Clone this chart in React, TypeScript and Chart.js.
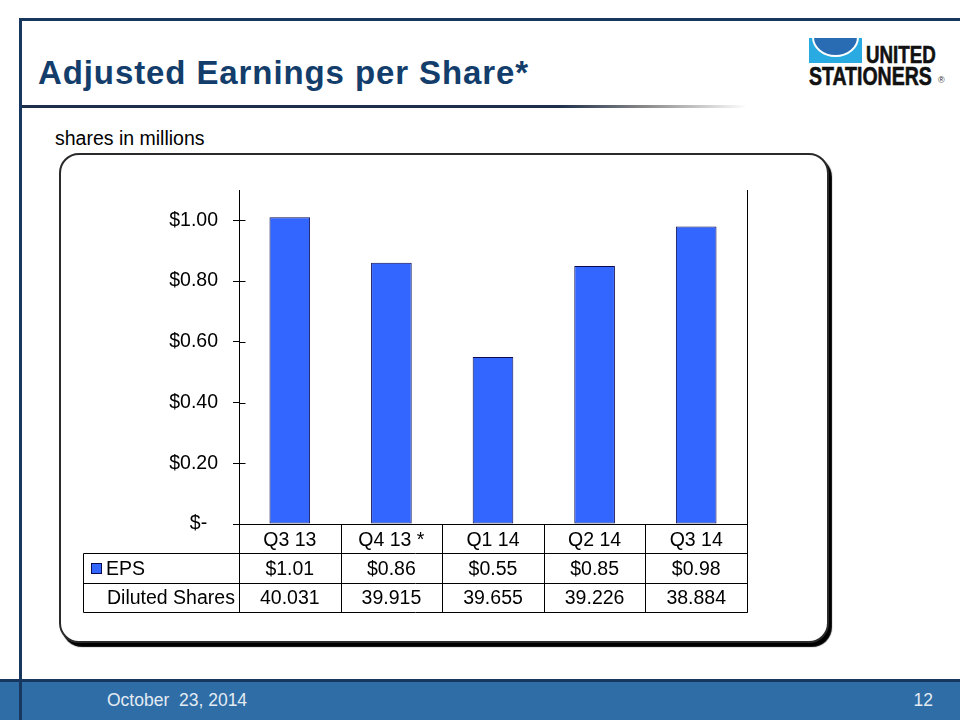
import React, { useEffect, useRef } from 'react';
import { Chart, registerables } from 'chart.js';

Chart.register(...registerables);

const categories = ['Q3 13', 'Q4 13 *', 'Q1 14', 'Q2 14', 'Q3 14'];
const epsValues = [1.01, 0.86, 0.55, 0.85, 0.98];
const epsLabels = ['$1.01', '$0.86', '$0.55', '$0.85', '$0.98'];
const dilutedShares = ['40.031', '39.915', '39.655', '39.226', '38.884'];
const seriesName = 'EPS';
const sharesRowName = 'Diluted Shares';
const yMin = 0;
const yMax = 1.1;
const yStep = 0.2;

const FONT = '"Liberation Sans", Arial, sans-serif';
const BAR_FILL = '#3366ff';
const BAR_EDGE = '#0a0a50';

const px = (v: number) => Math.round(v) + 0.5;

const tablePlugin = {
  id: 'dataTable',
  afterDraw(chart: any) {
    const { ctx, chartArea: a } = chart;
    const n = categories.length;
    const w = (a.right - a.left) / n;
    const rowH = 29.3;
    const r0 = a.bottom;
    const r1 = r0 + rowH;
    const r2 = r1 + rowH;
    const r3 = r2 + rowH;
    const tableLeft = 83;
    const line = (x1: number, y1: number, x2: number, y2: number) => {
      ctx.beginPath();
      ctx.moveTo(x1, y1);
      ctx.lineTo(x2, y2);
      ctx.stroke();
    };
    ctx.save();
    ctx.strokeStyle = '#000';
    ctx.lineWidth = 1;
    line(px(a.right), a.top, px(a.right), px(r3));
    const ys = chart.scales.y;
    ys.ticks.forEach((t: any) => {
      const y = px(ys.getPixelForValue(t.value));
      line(px(a.left), y, px(a.left) + 6, y);
    });
    line(px(a.left), px(r0), px(a.right), px(r0));
    line(px(tableLeft), px(r1), px(a.right), px(r1));
    line(px(tableLeft), px(r2), px(a.right), px(r2));
    line(px(tableLeft), px(r3), px(a.right), px(r3));
    line(px(tableLeft), px(r1), px(tableLeft), px(r3));
    for (let i = 0; i <= n; i++) {
      const x = px(a.left + i * w);
      line(x, px(r0), x, px(r3));
    }
    ctx.fillStyle = '#000';
    ctx.font = `19.5px ${FONT}`;
    ctx.textAlign = 'center';
    ctx.textBaseline = 'middle';
    for (let i = 0; i < n; i++) {
      const cx = a.left + (i + 0.5) * w;
      ctx.fillText(categories[i], cx, (r0 + r1) / 2 + 1.5);
      ctx.fillText(epsLabels[i], cx, (r1 + r2) / 2 + 1.5);
      ctx.fillText(dilutedShares[i], cx, (r2 + r3) / 2 + 1.5);
    }
    ctx.textAlign = 'left';
    ctx.fillStyle = BAR_FILL;
    ctx.fillRect(91, Math.round((r1 + r2) / 2) - 5, 11, 11);
    ctx.strokeStyle = BAR_EDGE;
    ctx.strokeRect(91.5, Math.round((r1 + r2) / 2) - 4.5, 10, 10);
    ctx.fillStyle = '#000';
    ctx.fillText(seriesName, 106, (r1 + r2) / 2 + 1.5);
    ctx.fillText(sharesRowName, 107, (r2 + r3) / 2 + 1.5);
    ctx.restore();
  },
};

function EpsChart() {
  const ref = useRef<HTMLCanvasElement | null>(null);
  useEffect(() => {
    if (!ref.current) return;
    const chart = new Chart(ref.current, {
      type: 'bar',
      data: {
        labels: categories,
        datasets: [
          {
            label: seriesName,
            data: epsValues,
            backgroundColor: BAR_FILL,
            borderColor: BAR_EDGE,
            borderWidth: 1,
            borderSkipped: false,
            barPercentage: 0.4,
            categoryPercentage: 1,
          },
        ],
      },
      options: {
        animation: false,
        responsive: false,
        devicePixelRatio: 1,
        layout: { padding: { top: 190, bottom: 196, right: 213, left: 0 } },
        plugins: { legend: { display: false }, tooltip: { enabled: false } },
        scales: {
          x: { display: false },
          y: {
            min: yMin,
            max: yMax,
            ticks: {
              stepSize: yStep,
              includeBounds: false,
              color: '#000',
              padding: 15,
              font: { family: FONT, size: 19.5 },
              callback: (v: any) => (Number(v) === 0 ? '$-  ' : '$' + Number(v).toFixed(2)),
            },
            grid: { drawOnChartArea: false, drawTicks: true, tickLength: 6, color: '#000' },
            border: { color: '#000', width: 1 },
            afterFit: (s: any) => {
              s.width = 239;
            },
          },
        },
      },
      plugins: [tablePlugin],
    });
    return () => chart.destroy();
  }, []);
  return (
    <canvas
      ref={ref}
      width={960}
      height={720}
      style={{ position: 'absolute', left: 0, top: 0, width: 960, height: 720, zIndex: 5 }}
    />
  );
}

export default function App() {
  const navy = '#17375e';
  return (
    <div
      style={{
        position: 'fixed',
        left: 0,
        top: 0,
        width: 960,
        height: 720,
        background: '#fff',
        overflow: 'hidden',
        fontFamily: FONT,
      }}
    >
      <div style={{ position: 'absolute', left: 19, top: 18, width: 941, height: 3, background: navy }} />
      <div style={{ position: 'absolute', left: 0, top: 680, width: 960, height: 40, background: '#2e6da6' }} />
      <div style={{ position: 'absolute', left: 0, top: 679, width: 960, height: 3, background: navy }} />
      <div style={{ position: 'absolute', left: 19, top: 18, width: 3, height: 702, background: navy, zIndex: 2 }} />
      <div
        style={{
          position: 'absolute',
          left: 107,
          top: 690,
          fontFamily: '"Liberation Sans Narrow", "Arial Narrow", sans-serif',
          fontSize: 17.5,
          lineHeight: '20px',
          color: '#e4ebf3',
          whiteSpace: 'pre',
        }}
      >
        October  23, 2014
      </div>
      <div
        style={{
          position: 'absolute',
          right: 27,
          top: 690,
          fontFamily: '"Liberation Sans Narrow", "Arial Narrow", sans-serif',
          fontSize: 17.5,
          lineHeight: '20px',
          color: '#e4ebf3',
        }}
      >
        12
      </div>
      <div
        style={{
          position: 'absolute',
          left: 38,
          top: 56,
          fontSize: 33,
          lineHeight: '33px',
          fontWeight: 'bold',
          color: '#133d6b',
          letterSpacing: 0.9,
          whiteSpace: 'nowrap',
        }}
      >
        Adjusted Earnings per Share*
      </div>
      <div
        style={{
          position: 'absolute',
          left: 22,
          top: 105,
          width: 725,
          height: 3,
          background:
            'linear-gradient(to right, #1c2f4a 0%, #1c2f4a 74%, #8a8a8a 86%, rgba(255,255,255,0) 100%)',
        }}
      />
      <svg
        width={60}
        height={30}
        viewBox="0 0 60 30"
        style={{ position: 'absolute', left: 806, top: 36 }}
      >
        <rect x={3} y={2} width={53} height={25} fill="#29abe2" />
        <path d="M 7 1 H 52 A 22.5 19 0 0 1 7 1 Z" fill="#2a6cb4" stroke="#fff" strokeWidth={2} />
        <rect x={3} y={0} width={53} height={2} fill="#fff" />
      </svg>
      <div style={{ position: 'absolute', left: 866, top: 43, fontSize: 24, lineHeight: '24px', fontWeight: 'bold', color: '#111', transform: 'scaleX(0.78)', transformOrigin: 'left top', whiteSpace: 'nowrap', WebkitTextStroke: '0.6px #111' }}>
        UNITED
      </div>
      <div style={{ position: 'absolute', left: 809, top: 64, fontSize: 25, lineHeight: '25px', fontWeight: 'bold', color: '#111', transform: 'scaleX(0.78)', transformOrigin: 'left top', whiteSpace: 'nowrap', WebkitTextStroke: '0.6px #111' }}>
        STATIONERS
      </div>
      <div style={{ position: 'absolute', left: 938, top: 76, fontSize: 9, lineHeight: '9px', color: '#333' }}>®</div>
      <div style={{ position: 'absolute', left: 55, top: 128, fontSize: 19.5, lineHeight: '20px', color: '#000', whiteSpace: 'nowrap' }}>
        shares in millions
      </div>
      <div
        style={{
          position: 'absolute',
          left: 59,
          top: 153,
          width: 766,
          height: 486,
          border: '2px solid #2a2a2a',
          borderRadius: 20,
          boxShadow: '3px 4px 1px #000',
          background: '#fff',
        }}
      />
      <EpsChart />
    </div>
  );
}
